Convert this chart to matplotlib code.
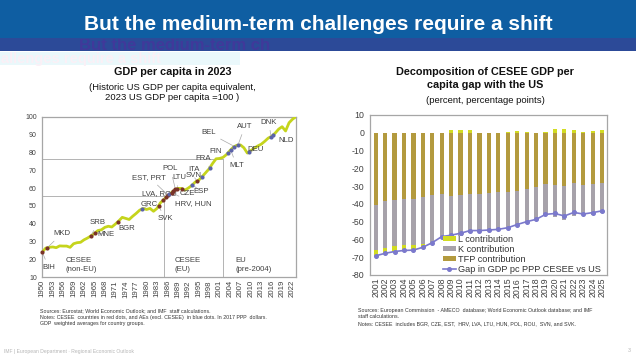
import matplotlib
matplotlib.use('Agg')
import matplotlib.pyplot as plt
import numpy as np
from matplotlib.patches import Rectangle
from matplotlib.transforms import Bbox, TransformedBbox

plt.rcParams['font.family'] = ['Liberation Sans', 'DejaVu Sans']
plt.rcParams['axes.unicode_minus'] = False

# ---------------- data: left chart ----------------
us_years = list(range(1950, 2024))
us_gdp = [24.2, 26.4, 26.8, 27.0, 26.6, 27.6, 27.5, 27.5, 26.8, 28.8,
          29.4, 29.6, 31.0, 32.0, 33.2, 34.6, 36.2, 36.6, 38.0, 38.6,
          38.2, 39.8, 41.6, 43.6, 43.0, 42.4, 44.2, 45.8, 47.6, 48.6,
          48.0, 48.6, 47.0, 48.6, 51.8, 53.6, 55.6, 57.2, 58.8, 59.8,
          59.8, 58.8, 60.0, 61.4, 63.4, 64.4, 66.4, 68.6, 70.8, 73.8,
          76.4, 76.6, 77.2, 78.8, 81.0, 83.0, 84.0, 84.2, 82.6, 79.6,
          81.0, 82.4, 83.6, 84.6, 86.2, 88.0, 89.0, 90.8, 93.0, 94.4,
          92.0, 96.6, 98.6, 100.0]

dot_countries = ['BIH', 'MKD', 'SRB', 'MNE', 'BGR', 'GRC', 'SVK', 'LVA', 'ROU', 'EST',
                 'PRT', 'HRV', 'HUN', 'POL', 'LTU', 'CZE', 'ESP', 'SVN', 'ITA', 'FRA',
                 'FIN', 'MLT', 'BEL', 'AUT', 'DEU', 'DNK', 'NLD']
dot_years = [1950.0, 1951.3, 1964.0, 1965.3, 1971.8, 1978.8, 1983.5, 1984.8, 1985.6, 1986.2,
             1986.6, 1987.2, 1987.6, 1988.3, 1988.8, 1990.2, 1993.2, 1994.4, 1996.0, 1998.2,
             2003.3, 2004.2, 2005.3, 2006.3, 2009.4, 2015.8, 2016.3]
dot_values = [24.2, 26.3, 33.2, 35.0, 41.2, 48.4, 50.0, 53.2, 54.8, 56.0,
              56.6, 57.5, 58.2, 59.3, 59.7, 59.7, 61.8, 63.8, 66.4, 71.4,
              79.5, 81.4, 83.3, 84.1, 80.2, 88.8, 89.5]
dot_group = ['C', 'C', 'C', 'C', 'C', 'A', 'C', 'C', 'C', 'C',
             'A', 'C', 'C', 'C', 'C', 'C', 'A', 'C', 'A', 'A',
             'A', 'A', 'A', 'A', 'A', 'A', 'A']

label_texts = ['BIH', 'MKD', 'SRB', 'MNE', 'BGR', 'GRC', 'SVK', 'LVA, ROU', 'EST, PRT', 'POL',
               'LTU', 'HRV, HUN', 'CZE', 'ESP', 'ITA', 'SVN', 'FRA', 'FIN', 'MLT', 'BEL',
               'AUT', 'DEU', 'DNK', 'NLD']
label_anchor = ['BIH', 'MKD', 'SRB', 'MNE', 'BGR', 'GRC', 'SVK', 'LVA', 'EST', 'POL',
                'LTU', 'HRV', 'CZE', 'ESP', 'ITA', 'SVN', 'FRA', 'FIN', 'MLT', 'BEL',
                'AUT', 'DEU', 'DNK', 'NLD']
label_x = [1951.8, 1953.2, 1966.0, 1968.4, 1974.3, 1980.7, 1985.3, 1983.8, 1980.8, 1986.9,
           1989.3, 1988.2, 1991.6, 1995.6, 1993.5, 1993.6, 1996.4, 1999.8, 2005.9, 1997.9,
           2008.3, 2011.4, 2015.2, 2020.2]
label_y = [15.5, 34.6, 40.8, 34.0, 37.2, 50.6, 42.8, 57.2, 66.0, 70.7,
           66.0, 51.4, 57.0, 58.3, 70.6, 66.8, 76.7, 80.6, 72.7, 91.0,
           94.6, 81.5, 97.0, 86.4]
label_ha = ['center', 'left', 'center', 'center', 'center', 'center', 'center', 'center', 'center', 'center',
            'center', 'left', 'center', 'center', 'center', 'center', 'center', 'center', 'center', 'center',
            'center', 'center', 'center', 'center']

partition_years = [1985.0, 2002.0]
partition_levels = [55.5, 76.5]
region_labels = ['CESEE\n(non-EU)', 'CESEE\n(EU)', 'EU\n(pre-2004)']
region_x = [1956.6, 1988.0, 2005.5]

# ---------------- data: right chart ----------------
years2 = [str(y) for y in range(2001, 2026)]
l_contrib = [-3.5, -3.0, -3.0, -2.8, -2.8, -2.0, -0.3, 0.0, 1.8, 1.8, 1.5, 0.0, 0.0,
             0.0, 0.2, 0.8, 0.6, 0.0, 0.3, 2.0, 2.0, 1.8, 0.3, 1.2, 1.5]
k_contrib = [-24.9, -26.3, -25.8, -25.9, -25.7, -26.4, -26.5, -23.9, -23.9, -23.5, -22.2, -20.8, -20.9,
             -20.8, -20.3, -19.4, -19.1, -18.2, -17.4, -18.2, -18.6, -18.3, -16.8, -17.3, -17.0]
tfp_contrib = [-40.8, -38.5, -38.0, -37.5, -37.5, -36.0, -35.0, -34.5, -35.5, -34.8, -34.3, -34.2, -33.8,
               -33.5, -33.3, -33.0, -31.5, -30.5, -28.8, -29.2, -30.2, -28.3, -29.2, -28.8, -28.4]
gap = [-69.2, -67.8, -66.8, -66.2, -66.0, -64.4, -61.8, -58.4, -57.6, -56.5, -55.0, -55.0, -54.7,
       -54.3, -53.4, -51.6, -50.0, -48.7, -45.9, -45.4, -46.8, -44.8, -45.7, -44.9, -43.9]

# ---------------- figure ----------------
W, H = 636, 357
fig = plt.figure(figsize=(6.36, 3.57), dpi=100)


def fx(x):
    return x / W


def fy(y):
    return 1 - y / H


# header banner
fig.add_artist(Rectangle((0, fy(38.5)), 1, 38.5 / H, transform=fig.transFigure,
                         facecolor='#0f5ea2', edgecolor='none', zorder=0))
fig.add_artist(Rectangle((0, fy(50.7)), 1, 12.2 / H, transform=fig.transFigure,
                         facecolor='#2c4a98', edgecolor='none', zorder=0))
fig.add_artist(Rectangle((0, fy(65)), fx(240), 13.5 / H, transform=fig.transFigure,
                         facecolor='#eaf8fb', edgecolor='none', zorder=0))
fig.text(fx(318.5), fy(24.0), 'But the medium-term challenges require a shift',
         ha='center', va='center', fontsize=15.0, fontweight='bold', color='white')
g1 = fig.text(fx(79), fy(45.5), 'But the medium-term ch', ha='left', va='center',
              fontsize=12.0, fontweight='bold', color='#40399a')
g1.set_clip_box(TransformedBbox(Bbox([[0, fy(50.7)], [1, fy(38.5)]]), fig.transFigure))
g1.set_clip_on(True)
fig.text(fx(1), fy(59.5), 'allenges require a shift', ha='left', va='center',
         fontsize=10.5, fontweight='bold', color='#fbf0f6')

# ---------------- left chart ----------------
ax1 = fig.add_axes([fx(42.3), fy(277.3), (296 - 42.3) / W, (277.3 - 116.7) / H])
ax1.plot(us_years, us_gdp, color='#c5d41c', lw=2.0, zorder=3, solid_capstyle='round')
for yr, lv in zip(partition_years, partition_levels):
    ax1.plot([1950, yr], [lv, lv], color='#b3b3b3', lw=0.7, zorder=1)
    ax1.plot([yr, yr], [10, lv], color='#b3b3b3', lw=0.7, zorder=1)

dot_lookup = {}
for c, yv, v, g in zip(dot_countries, dot_years, dot_values, dot_group):
    dot_lookup[c] = (yv, v)
    ax1.plot(yv, v, 'o', ms=3.0, color='#7a3328' if g == 'C' else '#5c63a8',
             mec='none', zorder=5, clip_on=False)

for t, a, lx, ly, ha in zip(label_texts, label_anchor, label_x, label_y, label_ha):
    ax1.annotate(t, xy=dot_lookup[a], xytext=(lx, ly), ha=ha, va='center',
                 fontsize=5.6, color='#404040', zorder=4,
                 arrowprops=dict(arrowstyle='-', color='#a8a8a8', lw=0.5,
                                 shrinkA=1.5, shrinkB=1.5))

for t, xr in zip(region_labels, region_x):
    ax1.text(xr, 17.0, t, ha='left', va='center', fontsize=5.6, color='#404040', linespacing=1.3)

ax1.set_xlim(1950, 2023)
ax1.set_ylim(10, 100)
ax1.set_xticks(list(range(1950, 2023, 3)))
ax1.set_xticklabels([str(y) for y in range(1950, 2023, 3)], rotation=90)
ax1.set_yticks(list(range(10, 101, 10)))
ax1.tick_params(axis='both', length=0, labelsize=5.0, colors='#404040', pad=4)
ax1.tick_params(axis='x', labelsize=5.6, pad=2)
for s in ax1.spines.values():
    s.set_color('#a6a6a6')
    s.set_linewidth(0.9)

fig.text(fx(172.5), fy(72), 'GDP per capita in 2023', ha='center', va='center',
         fontsize=7.8, fontweight='bold', color='#111111')
fig.text(fx(172.5), fy(92.5), '(Historic US GDP per capita equivalent,\n2023 US GDP per capita =100 )',
         ha='center', va='center', fontsize=6.8, color='#111111', linespacing=1.25)

fig.text(fx(40.5), fy(317), 'Sources: Eurostat; World Economic Outlook; and IMF  staff calculations.\n'
         'Notes: CESEE  countries in red dots, and AEs (excl. CESEE)  in blue dots. In 2017 PPP  dollars.\n'
         'GDP  weighted averages for country groups.',
         ha='left', va='center', fontsize=3.75, color='#333333', linespacing=1.35)

# ---------------- right chart ----------------
ax2 = fig.add_axes([fx(370), fy(275), (607.3 - 370) / W, (275 - 115) / H])
x = np.arange(len(years2))
tfp = np.array(tfp_contrib)
kk = np.array(k_contrib)
ll = np.array(l_contrib)
bw = 0.45
b_tfp = ax2.bar(x, tfp, bw, bottom=0, color='#b39a3e', zorder=2)
b_k = ax2.bar(x, kk, bw, bottom=tfp, color='#a7a2aa', zorder=2)
l_bottom = np.where(ll < 0, tfp + kk, 0)
b_l = ax2.bar(x, ll, bw, bottom=l_bottom, color='#d2dc22', zorder=2)
ln, = ax2.plot(x, gap, color='#7b79cc', lw=1.2, marker='o', ms=2.6, zorder=3)
ax2.set_xlim(-0.6, 24.55)
ax2.set_ylim(-80, 10)
ax2.set_yticks(list(range(-80, 11, 10)))
ax2.set_xticks(x)
ax2.set_xticklabels(years2, rotation=90)
ax2.tick_params(axis='both', length=0, labelsize=6.3, colors='#404040', pad=4)
ax2.tick_params(axis='x', pad=2)
for s in ax2.spines.values():
    s.set_color('#a6a6a6')
    s.set_linewidth(0.9)

leg = ax2.legend([b_l, b_k, b_tfp, ln],
                 ['L contribution', 'K contribution', 'TFP contribution', 'Gap in GDP pc PPP CESEE vs US'],
                 loc='lower left', bbox_to_anchor=(0.28, -0.035), frameon=False, fontsize=6.6,
                 handlelength=1.4, handleheight=0.45, handletextpad=0.25,
                 labelspacing=0.12, borderpad=0.2)
for t in leg.get_texts():
    t.set_color('#333333')

fig.text(fx(485), fy(78.5), 'Decomposition of CESEE GDP per\ncapita gap with the US',
         ha='center', va='center', fontsize=7.8, fontweight='bold', color='#111111', linespacing=1.3)
fig.text(fx(485), fy(100.7), '(percent, percentage points)', ha='center', va='center',
         fontsize=6.8, color='#111111')

fig.text(fx(358), fy(317), 'Sources: European Commission  - AMECO  database; World Economic Outlook database; and IMF\n'
         'staff calculations.\n'
         'Notes: CESEE  includes BGR, CZE, EST,  HRV, LVA, LTU, HUN, POL, ROU,  SVN, and SVK.',
         ha='left', va='center', fontsize=3.75, color='#333333', linespacing=1.35)

# footer
fig.text(fx(4), fy(351), 'IMF | European Department \u00b7 Regional Economic Outlook', ha='left', va='center',
         fontsize=3.6, color='#b5b5b5')
fig.text(fx(629), fy(351), '3', ha='center', va='center', fontsize=3.8, color='#b5b5b5')

fig.savefig('out.png', dpi=100)
